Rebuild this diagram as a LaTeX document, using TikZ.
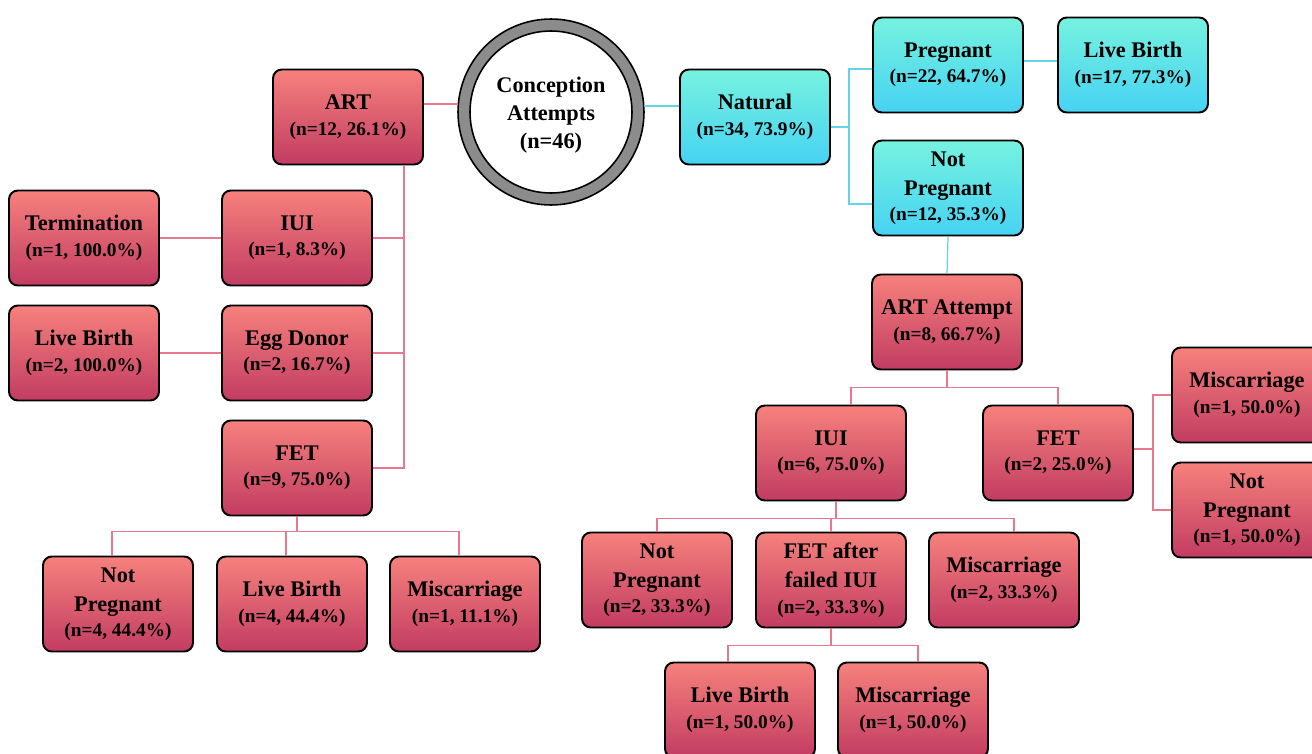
\documentclass[tikz,border=0pt]{standalone}
\usepackage{fontspec}
\setmainfont{Liberation Serif}
\usepackage{xcolor}
\usepackage{tikz}

\definecolor{redtop}{HTML}{F6817C}
\definecolor{redbot}{HTML}{C23C62}
\definecolor{cyantop}{HTML}{76F2DF}
\definecolor{cyanbot}{HTML}{46D2F3}
\definecolor{linepink}{HTML}{E8788E}
\definecolor{linecyan}{HTML}{62D4E6}
\definecolor{ringgray}{HTML}{8C8C8C}

\newcommand{\nsub}[1]{{\fontsize{11}{13}\selectfont #1}}
\newcommand{\ndtext}[2]{#1\\[-2pt]\nsub{#2}}

\begin{document}
\begin{tikzpicture}[x=0.02cm, y=-0.02cm,
	outbox/.style={draw=black, line width=1.1pt, rounded corners=5pt, minimum width=3cm, minimum height=1.9cm, align=center, inner sep=1pt, font=\fontsize{12.7}{16.5}\selectfont\bfseries},
	redbox/.style={outbox, top color=redtop, bottom color=redbot},
	cyanbox/.style={outbox, top color=cyantop, bottom color=cyanbot},
	redline/.style={draw=linepink, line width=0.7pt},
	cyanline/.style={draw=linecyan, line width=0.7pt}]
	\useasboundingbox (0,0) rectangle (1312,754);
	
	% Start
	\node[circle, minimum size=3.72cm, align=center, font=\fontsize{12.7}{16}\selectfont\bfseries] (conc) at (551,115) {Conception\\Attempts\\(n=46)};
	\draw[fill=ringgray, even odd rule, line width=0.9pt] ([yshift=0.06cm]conc.center) circle (1.86cm) circle (1.62cm);
	
	% ART branch
	\node[redbox] (art) at (348,117) {\ndtext{ART}{(n=12, 26.1\%)}};
	\node[redbox] (iuiL) at (297,238) {\ndtext{IUI}{(n=1, 8.3\%)}};
	\node[redbox] (term) at (84,238) {\ndtext{Termination}{(n=1, 100.0\%)}};
	\node[redbox] (egg) at (297,353) {\ndtext{Egg Donor}{(n=2, 16.7\%)}};
	\node[redbox] (lbE) at (84,353) {\ndtext{Live Birth}{(n=2, 100.0\%)}};
	\node[redbox] (fetL) at (297,468) {\ndtext{FET}{(n=9, 75.0\%)}};
	\node[redbox] (npL) at (118,604) {\ndtext{Not\\Pregnant}{(n=4, 44.4\%)}};
	\node[redbox] (lbL) at (292,604) {\ndtext{Live Birth}{(n=4, 44.4\%)}};
	\node[redbox] (miscL) at (465,604) {\ndtext{Miscarriage}{(n=1, 11.1\%)}};
	
	% Natural branch
	\node[cyanbox] (nat) at (755,117) {\ndtext{Natural}{(n=34, 73.9\%)}};
	\node[cyanbox] (preg) at (948,65) {\ndtext{Pregnant}{(n=22, 64.7\%)}};
	\node[cyanbox] (lbN) at (1133,65) {\ndtext{Live Birth}{(n=17, 77.3\%)}};
	\node[cyanbox] (npN) at (948,188) {\ndtext{Not\\Pregnant}{(n=12, 35.3\%)}};
	
	% ART after natural
	\node[redbox] (artA) at (947,322) {\ndtext{ART Attempt}{(n=8, 66.7\%)}};
	\node[redbox] (iuiR) at (831,453) {\ndtext{IUI}{(n=6, 75.0\%)}};
	\node[redbox] (fetR) at (1058,453) {\ndtext{FET}{(n=2, 25.0\%)}};
	\node[redbox] (miscF) at (1247,395) {\ndtext{Miscarriage}{(n=1, 50.0\%)}};
	\node[redbox] (npF) at (1247,510) {\ndtext{Not\\Pregnant}{(n=1, 50.0\%)}};
	\node[redbox] (npI) at (657,580) {\ndtext{Not\\Pregnant}{(n=2, 33.3\%)}};
	\node[redbox] (fetI) at (831,580) {\ndtext{FET after\\failed IUI}{(n=2, 33.3\%)}};
	\node[redbox] (miscI) at (1004,580) {\ndtext{Miscarriage}{(n=2, 33.3\%)}};
	\node[redbox] (lbI) at (740,710) {\ndtext{Live Birth}{(n=1, 50.0\%)}};
	\node[redbox] (miscIb) at (913,710) {\ndtext{Miscarriage}{(n=1, 50.0\%)}};
	
	% Connectors
	\draw[redline] ([yshift=0.22cm]conc.west) -- ([yshift=0.22cm]conc.west -| art.east);
	\draw[cyanline] ([yshift=0.18cm]conc.east) -- ([yshift=0.18cm]conc.east -| nat.west);
	
	\coordinate (artdrop) at ([xshift=-0.4cm]art.south east);
	\foreach \kid in {iuiL,egg,fetL}
		\draw[redline] (artdrop) |- (\kid.east);
	\draw[redline] (term.east) -- (iuiL.west);
	\draw[redline] (lbE.east) -- (egg.west);
	\draw[redline] (fetL.south) -- ++(0,-0.3cm) coordinate (fetLbar);
	\foreach \kid in {npL,lbL,miscL}
		\draw[redline] (fetLbar) -| ([xshift=-0.12cm]\kid.north);
	
	\draw[cyanline] ([yshift=-0.2cm]nat.east) -- ++(0.36cm,0) coordinate (natbar);
	\draw[cyanline] (natbar) |- ([yshift=-0.08cm]preg.west);
	\draw[cyanline] (natbar) |- ([yshift=-0.32cm]npN.west);
	\draw[cyanline] ([yshift=0.08cm]preg.east) -- ([yshift=0.08cm]lbN.west);
	\draw[cyanline] (npN.south) -- (artA.north);
	
	\draw[redline] (artA.south) -- ++(0,-0.34cm) coordinate (artAbar);
	\draw[redline] (artAbar) -| ([xshift=0.4cm]iuiR.north);
	\draw[redline] (artAbar) -| (fetR.north);
	\draw[redline] ([yshift=0.08cm]fetR.east) -- ++(0.38cm,0) coordinate (fetRbar);
	\foreach \kid in {miscF,npF}
		\draw[redline] (fetRbar) |- (\kid.west);
	\draw[redline] ([xshift=0.1cm]iuiR.south) -- ++(0,-0.34cm) coordinate (iuiRbar);
	\foreach \kid in {npI,fetI}
		\draw[redline] (iuiRbar) -| (\kid.north);
	\draw[redline] (iuiRbar) -| ([xshift=0.2cm]miscI.north);
	\draw[redline] (fetI.south) -- ++(0,-0.34cm) coordinate (fetIbar);
	\draw[redline] (fetIbar) -| ([xshift=-0.24cm]lbI.north);
	\draw[redline] (fetIbar) -| ([xshift=0.1cm]miscIb.north);
\end{tikzpicture}
\end{document}
